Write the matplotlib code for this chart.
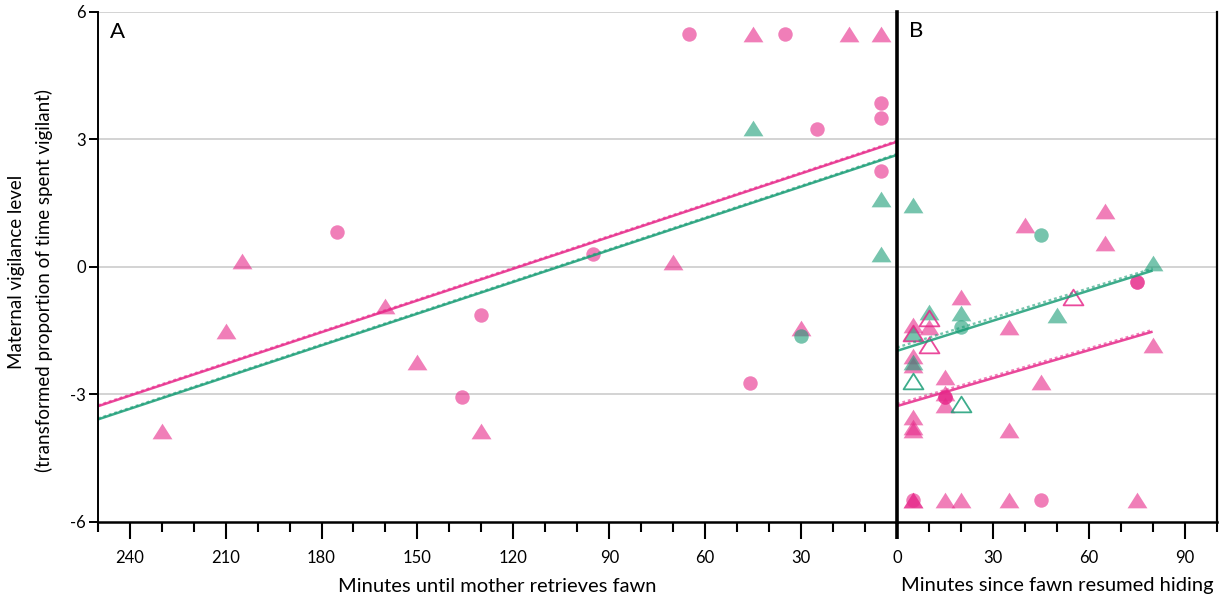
import numpy as np
import matplotlib
matplotlib.use("Agg")
import matplotlib.pyplot as plt
from matplotlib.path import Path

plt.rcParams['font.family'] = ['Lato', 'DejaVu Sans']

# ---------------- data ----------------
# Panel A: minutes until mother retrieves fawn
A_pink_circ_x = [65, 35, 5, 5, 25, 5, 95, 175, 130, 136, 46]
A_pink_circ_y = [5.47, 5.47, 3.84, 3.51, 3.25, 2.24, 0.31, 0.82, -1.14, -3.06, -2.74]
A_pink_tri_x = [45, 15, 5, 70, 205, 160, 210, 150, 230, 130, 30]
A_pink_tri_y = [5.47, 5.47, 5.47, 0.12, 0.13, -0.92, -1.51, -2.25, -3.86, -3.86, -1.45]
A_green_tri_x = [45, 5, 5]
A_green_tri_y = [3.26, 1.59, 0.31]
A_green_circ_x = [30]
A_green_circ_y = [-1.63]

# Panel B: minutes since fawn resumed hiding
B_pink_tri_x = [40, 65, 65, 20, 10, 35, 5, 80, 5, 5, 15, 45, 15, 15, 5, 5, 5, 35,
                5, 5, 15, 20, 35, 75]
B_pink_tri_y = [0.98, 1.31, 0.56, -0.71, -1.41, -1.41, -1.37, -1.84, -2.10, -2.32,
                -2.59, -2.71, -2.97, -3.25, -3.53, -3.78, -3.85, -3.84,
                -5.49, -5.49, -5.49, -5.49, -5.49, -5.49]
B_pink_circ_x = [75, 75, 15, 15, 45, 5]
B_pink_circ_y = [-0.35, -0.35, -3.06, -3.06, -5.49, -5.49]
B_pink_open_x = [55, 10, 10, 5]
B_pink_open_y = [-0.71, -1.20, -1.84, -1.57]
B_green_tri_x = [5, 80, 10, 20, 50, 5, 5]
B_green_tri_y = [1.45, 0.09, -1.07, -1.10, -1.14, -1.57, -2.24]
B_green_circ_x = [45, 20]
B_green_circ_y = [0.75, -1.43]
B_green_open_x = [5, 20]
B_green_open_y = [-2.70, -3.23]

# regression lines: (intercept, slope, x_max)
A_pink_fit = (2.94, -0.0249, 250)
A_pink_fit2 = (2.96, -0.0249, 250)
A_green_fit = (2.63, -0.0249, 250)
A_green_fit2 = (2.65, -0.0249, 250)
B_pink_fit = (-3.28, 0.0219, 80)
B_pink_fit2 = (-3.23, 0.0218, 80)
B_green_fit = (-1.98, 0.0236, 80)
B_green_fit2 = (-1.90, 0.0232, 80)

A_major = [240, 210, 180, 150, 120, 90, 60, 30]
B_major = [0, 30, 60, 90]
y_ticks = [-6, -3, 0, 3, 6]
y_ticklabels = ['-6', '-3', '0', '3', '6']

# ---------------- style ----------------
PINK = '#e7298a'
GREEN = '#1b9e77'
ALPHA = 0.6
tri = Path([(-1, -0.79), (1, -0.79), (0, 0.79), (-1, -0.79)],
           [Path.MOVETO, Path.LINETO, Path.LINETO, Path.CLOSEPOLY])
TRI_MS = 14.3
CIRC_MS = 10.4

W, H = 1225, 603
fig = plt.figure(figsize=(W / 100, H / 100), dpi=100)
left_px, div_px, right_px = 97.7, 897.0, 1216.5
top_px, bot_px = 11.7, 521.7
b = (H - bot_px) / H
h = (bot_px - top_px) / H
axA = fig.add_axes([left_px / W, b, (div_px - left_px) / W, h])
axB = fig.add_axes([div_px / W, b, (right_px - div_px) / W, h])


def pts(ax, x, y, color, marker, ms, open_=False):
    if open_:
        ax.plot(x, y, linestyle='none', marker=marker, ms=ms, mfc='none',
                mec=color, mew=1.3, alpha=0.85, zorder=3)
    else:
        ax.plot(x, y, linestyle='none', marker=marker, ms=ms, mfc=color,
                mec='none', alpha=ALPHA, zorder=3)


def fit(ax, p, p2, color):
    xx = np.linspace(0, p[2], 50)
    ax.plot(xx, p[0] + p[1] * xx, color=color, lw=1.8, alpha=0.85, zorder=4,
            solid_capstyle='butt')
    ax.plot(xx, p2[0] + p2[1] * xx, color=color, lw=1.7, alpha=0.6, zorder=4,
            linestyle=(0, (1.2, 1.2)))


for ax in (axA, axB):
    ax.set_ylim(-6, 6)
    for g in [6, 3, 0, -3]:
        ax.axhline(g, color='#cccccc', lw=1.2, zorder=1)
    ax.spines['top'].set_visible(False)
    ax.spines['bottom'].set_linewidth(1.8)
    ax.tick_params(axis='x', which='major', direction='out', length=12.5, width=1.5,
                   labelsize=12, pad=8)
    ax.tick_params(axis='x', which='minor', direction='out', length=7.5, width=1.5)

# Panel A
axA.set_xlim(250, 0)
axA.set_xticks(A_major)
axA.set_xticks([m for m in range(10, 251, 10) if m not in A_major], minor=True)
axA.set_yticks(y_ticks)
axA.set_yticklabels(y_ticklabels)
axA.tick_params(axis='y', direction='out', length=6.5, width=1.4, labelsize=12, pad=2)
axA.spines['right'].set_visible(False)
axA.spines['left'].set_linewidth(1.4)

pts(axA, A_pink_circ_x, A_pink_circ_y, PINK, 'o', CIRC_MS)
pts(axA, A_pink_tri_x, A_pink_tri_y, PINK, tri, TRI_MS)
pts(axA, A_green_circ_x, A_green_circ_y, GREEN, 'o', CIRC_MS)
pts(axA, A_green_tri_x, A_green_tri_y, GREEN, tri, TRI_MS)
fit(axA, A_pink_fit, A_pink_fit2, PINK)
fit(axA, A_green_fit, A_green_fit2, GREEN)

# Panel B
axB.set_xlim(0, 100)
axB.set_xticks(B_major)
axB.set_xticks([m for m in range(10, 101, 10) if m not in B_major], minor=True)
axB.set_yticks([])
axB.spines['left'].set_linewidth(2.6)
axB.spines['right'].set_linewidth(1.6)
axB.xaxis.get_major_ticks()[0].tick1line.set_markeredgewidth(2.6)

pts(axB, B_pink_tri_x, B_pink_tri_y, PINK, tri, TRI_MS)
pts(axB, B_pink_circ_x, B_pink_circ_y, PINK, 'o', CIRC_MS)
pts(axB, B_green_tri_x, B_green_tri_y, GREEN, tri, TRI_MS)
pts(axB, B_green_circ_x, B_green_circ_y, GREEN, 'o', CIRC_MS)
pts(axB, B_pink_open_x, B_pink_open_y, PINK, tri, TRI_MS, open_=True)
pts(axB, B_green_open_x, B_green_open_y, GREEN, tri, TRI_MS, open_=True)
fit(axB, B_pink_fit, B_pink_fit2, PINK)
fit(axB, B_green_fit, B_green_fit2, GREEN)

for ax in (axA, axB):
    for s in ax.spines.values():
        s.set_zorder(6)
        s.set_clip_on(False)

# Panel letters
fig.text(110 / W, 1 - 22 / H, 'A', fontsize=16, va='top', ha='left')
fig.text(909 / W, 1 - 21 / H, 'B', fontsize=16, va='top', ha='left')

# Axis titles
fig.text(497 / W, 1 - 586 / H, 'Minutes until mother retrieves fawn', fontsize=14.5,
         ha='center', va='center')
fig.text(1057 / W, 1 - 586 / H, 'Minutes since fawn resumed hiding', fontsize=14.5,
         ha='center', va='center')
fig.text(17 / W, 1 - 272 / H, 'Maternal vigilance level', fontsize=13.5,
         rotation=90, ha='center', va='center')
fig.text(44 / W, 1 - 280 / H, '(transformed proportion of time spent vigilant)',
         fontsize=13.5, rotation=90, ha='center', va='center')

fig.savefig('out.png', dpi=100)
